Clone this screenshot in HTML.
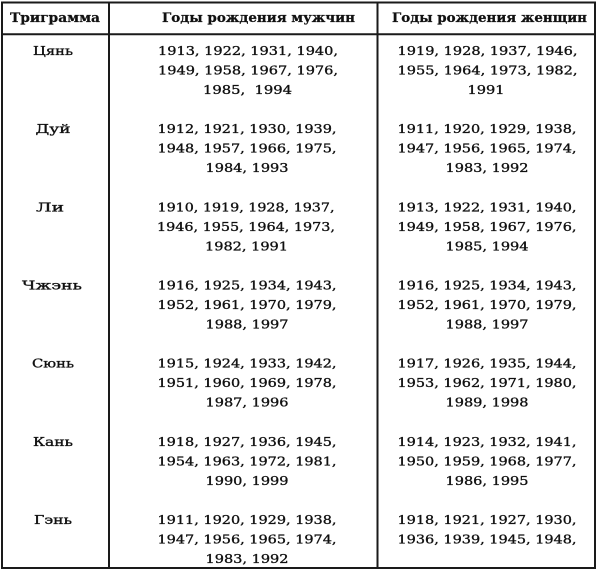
<!DOCTYPE html>
<html><head><meta charset="utf-8">
<style>
html,body{margin:0;padding:0;background:#fff;}
svg{display:block;}
text{font-family:"DejaVu Serif","Liberation Serif",serif;fill:#111;}
.h{font-weight:bold;font-size:13px;stroke:#111;stroke-width:0.25px;}
.b{font-size:12.5px;stroke:#111;stroke-width:0.35px;}
</style></head>
<body>
<svg width="600" height="571" viewBox="0 0 600 571" xmlns="http://www.w3.org/2000/svg">
<rect x="0" y="0" width="600" height="571" fill="#fff"/>
<g stroke="#1a1a1a" stroke-width="2" fill="none">
<rect x="2" y="2.5" width="593" height="565.5"/>
<line x1="2" y1="34.3" x2="595" y2="34.3"/>
<line x1="109" y1="2.5" x2="109" y2="568"/>
<line x1="377.5" y1="2.5" x2="377.5" y2="568"/>
</g>
<text class="h" x="10" y="22" textLength="90" lengthAdjust="spacingAndGlyphs">Триграмма</text>
<text class="h" x="162" y="22" textLength="193" lengthAdjust="spacingAndGlyphs">Годы рождения мужчин</text>
<text class="h" x="392" y="22" textLength="195" lengthAdjust="spacingAndGlyphs">Годы рождения женщин</text>

<g class="b" text-anchor="middle">
<!-- Row 0 -->
<text x="53" y="55" textLength="40" lengthAdjust="spacingAndGlyphs">Цянь</text>
<text x="248" y="55" textLength="180" lengthAdjust="spacingAndGlyphs">1913, 1922, 1931, 1940,</text>
<text x="248" y="74.5" textLength="180" lengthAdjust="spacingAndGlyphs">1949, 1958, 1967, 1976,</text>
<text x="247.5" y="94" textLength="89" lengthAdjust="spacingAndGlyphs">1985,&#160; 1994</text>
<text x="487.5" y="55" textLength="180" lengthAdjust="spacingAndGlyphs">1919, 1928, 1937, 1946,</text>
<text x="487.5" y="74.5" textLength="180" lengthAdjust="spacingAndGlyphs">1955, 1964, 1973, 1982,</text>
<text x="486" y="94" textLength="37" lengthAdjust="spacingAndGlyphs">1991</text>

<!-- Row 1 -->
<text x="53" y="133.2" textLength="35" lengthAdjust="spacingAndGlyphs">Дуй</text>
<text x="247" y="133.2" textLength="179" lengthAdjust="spacingAndGlyphs">1912, 1921, 1930, 1939,</text>
<text x="247" y="152.7" textLength="179" lengthAdjust="spacingAndGlyphs">1948, 1957, 1966, 1975,</text>
<text x="247" y="172.2" textLength="83" lengthAdjust="spacingAndGlyphs">1984, 1993</text>
<text x="487" y="133.2" textLength="179" lengthAdjust="spacingAndGlyphs">1911, 1920, 1929, 1938,</text>
<text x="487" y="152.7" textLength="179" lengthAdjust="spacingAndGlyphs">1947, 1956, 1965, 1974,</text>
<text x="487" y="172.2" textLength="83" lengthAdjust="spacingAndGlyphs">1983, 1992</text>

<!-- Row 2 -->
<text x="50" y="211.3" textLength="28" lengthAdjust="spacingAndGlyphs">Ли</text>
<text x="246" y="211.3" textLength="177" lengthAdjust="spacingAndGlyphs">1910, 1919, 1928, 1937,</text>
<text x="246" y="230.8" textLength="178" lengthAdjust="spacingAndGlyphs">1946, 1955, 1964, 1973,</text>
<text x="246.5" y="250.3" textLength="83" lengthAdjust="spacingAndGlyphs">1982, 1991</text>
<text x="487" y="211.3" textLength="179" lengthAdjust="spacingAndGlyphs">1913, 1922, 1931, 1940,</text>
<text x="487" y="230.8" textLength="179" lengthAdjust="spacingAndGlyphs">1949, 1958, 1967, 1976,</text>
<text x="487" y="250.3" textLength="83" lengthAdjust="spacingAndGlyphs">1985, 1994</text>

<!-- Row 3 -->
<text x="52" y="289.5" textLength="60" lengthAdjust="spacingAndGlyphs">Чжэнь</text>
<text x="247" y="289.5" textLength="179" lengthAdjust="spacingAndGlyphs">1916, 1925, 1934, 1943,</text>
<text x="247" y="309" textLength="179" lengthAdjust="spacingAndGlyphs">1952, 1961, 1970, 1979,</text>
<text x="247" y="328.5" textLength="83" lengthAdjust="spacingAndGlyphs">1988, 1997</text>
<text x="487" y="289.5" textLength="179" lengthAdjust="spacingAndGlyphs">1916, 1925, 1934, 1943,</text>
<text x="487" y="309" textLength="179" lengthAdjust="spacingAndGlyphs">1952, 1961, 1970, 1979,</text>
<text x="487" y="328.5" textLength="83" lengthAdjust="spacingAndGlyphs">1988, 1997</text>

<!-- Row 4 -->
<text x="53" y="367.7" textLength="42" lengthAdjust="spacingAndGlyphs">Сюнь</text>
<text x="247" y="367.7" textLength="179" lengthAdjust="spacingAndGlyphs">1915, 1924, 1933, 1942,</text>
<text x="247" y="387.2" textLength="179" lengthAdjust="spacingAndGlyphs">1951, 1960, 1969, 1978,</text>
<text x="247" y="406.7" textLength="83" lengthAdjust="spacingAndGlyphs">1987, 1996</text>
<text x="487" y="367.7" textLength="179" lengthAdjust="spacingAndGlyphs">1917, 1926, 1935, 1944,</text>
<text x="487" y="387.2" textLength="179" lengthAdjust="spacingAndGlyphs">1953, 1962, 1971, 1980,</text>
<text x="487" y="406.7" textLength="83" lengthAdjust="spacingAndGlyphs">1989, 1998</text>

<!-- Row 5 -->
<text x="53" y="445.8" textLength="40" lengthAdjust="spacingAndGlyphs">Кань</text>
<text x="247" y="445.8" textLength="179" lengthAdjust="spacingAndGlyphs">1918, 1927, 1936, 1945,</text>
<text x="247" y="465.3" textLength="179" lengthAdjust="spacingAndGlyphs">1954, 1963, 1972, 1981,</text>
<text x="247" y="484.8" textLength="83" lengthAdjust="spacingAndGlyphs">1990, 1999</text>
<text x="487" y="445.8" textLength="179" lengthAdjust="spacingAndGlyphs">1914, 1923, 1932, 1941,</text>
<text x="487" y="465.3" textLength="179" lengthAdjust="spacingAndGlyphs">1950, 1959, 1968, 1977,</text>
<text x="487" y="484.8" textLength="83" lengthAdjust="spacingAndGlyphs">1986, 1995</text>

<!-- Row 6 -->
<text x="53" y="524" textLength="38" lengthAdjust="spacingAndGlyphs">Гэнь</text>
<text x="247" y="524" textLength="179" lengthAdjust="spacingAndGlyphs">1911, 1920, 1929, 1938,</text>
<text x="247" y="543.5" textLength="179" lengthAdjust="spacingAndGlyphs">1947, 1956, 1965, 1974,</text>
<text x="247" y="563" textLength="83" lengthAdjust="spacingAndGlyphs">1983, 1992</text>
<text x="487" y="524" textLength="179" lengthAdjust="spacingAndGlyphs">1918, 1921, 1927, 1930,</text>
<text x="487" y="543.5" textLength="179" lengthAdjust="spacingAndGlyphs">1936, 1939, 1945, 1948,</text>
</g>
</svg>
</body></html>
